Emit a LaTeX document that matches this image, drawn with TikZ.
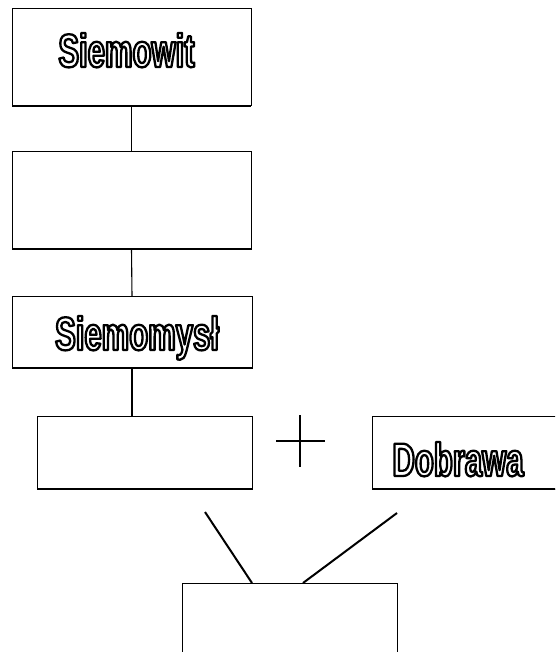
\documentclass[tikz,border=0pt]{standalone}
\usepackage{fontspec}
\usetikzlibrary{calc}
\newfontfamily\labfont{Liberation Sans}[FakeStretch=0.66]
\newcommand\outl[1]{%
  \special{pdf:literal direct 1 Tr 2.3 w 1 j}#1\special{pdf:literal direct 0 Tr}}
\begin{document}
\begin{tikzpicture}[x=1pt,y=-1pt,
  famBox/.style={draw=black,line width=1pt,fill=white,inner sep=0pt,outer sep=0pt},
  thickEdge/.style={draw=black,line width=2.2pt},
  conn/.style={draw=black,line width=1.1pt},
  diag/.style={draw=black,line width=2pt},
  lab/.style={inner sep=0pt,outer sep=0pt,anchor=base,text=black,font=\fontsize{47}{47}\selectfont\labfont\bfseries}]
\clip (0,0) rectangle (555,652);
\fill[white] (0,0) rectangle (555,652);
% boxes
\node[famBox,minimum width=239pt,minimum height=97pt] (b1) at (131.5,57.5) {};
\node[famBox,minimum width=239pt,minimum height=97pt] (b2) at (131.5,200.5) {};
\node[famBox,minimum width=240pt,minimum height=72pt] (b3) at (132,332) {};
\node[famBox,minimum width=215pt,minimum height=73pt] (b4) at (144.5,452.5) {};
\node[famBox,minimum width=203pt,minimum height=73pt] (b5) at (473.5,452.5) {};
\node[famBox,minimum width=215pt,minimum height=97pt] (b6) at (289.5,631.5) {};
% thicker bottom edges
\foreach \b in {b1,b2,b3,b4,b5}{\draw[thickEdge] (\b.south west) -- (\b.south east);}
% labels
\node[lab] (t1) at (126.5,67) {\outl{Siemowit}};
\node[lab] (t3) at (137,350) {\outl{Siemomysł}};
\node[lab] (t5) at (458,476) {\outl{Dobrawa}};
% vertical connectors
\draw[conn] (b1.south) -- (b2.north);
\draw[conn] (b2.south) -- (b3.north);
\draw[conn] (b3.south) -- (b3.south |- b4.north);
% plus sign
\coordinate (pt) at (300,415);
\coordinate (pb) at (300,467);
\coordinate (pl) at (276,441);
\coordinate (pr) at (325,441);
\draw[conn] (pt) -- (pb);
\draw[diag] (pl) -- (pr);
% diagonal connectors
\coordinate (dl) at (205,512);
\coordinate (dr) at (397,513);
\draw[diag] (dl) -- ($(b6.north west)+(70,0)$);
\draw[diag] (dr) -- ($(b6.north west)+(121,0)$);
\end{tikzpicture}
\end{document}
